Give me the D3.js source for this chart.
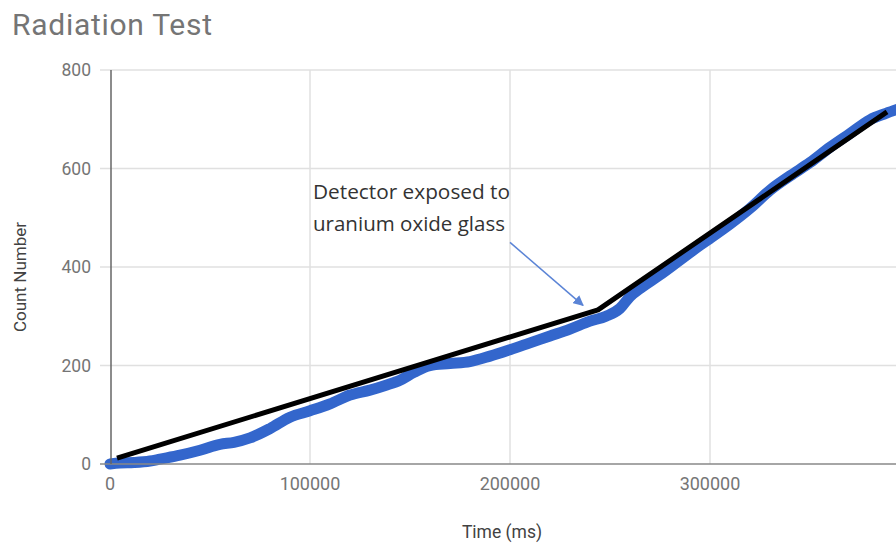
<!DOCTYPE html>
<html>
<head>
<meta charset="utf-8">
<script src="https://cdn.jsdelivr.net/npm/d3@7"></script>
<style>
  body { margin: 0; background: #fff; }
  svg { display: block; font-family: Roboto, sans-serif; }
</style>
</head>
<body>
<div id="chart"></div>
<script>
// measured counts (time in ms, cumulative count)
var timeMs = [0, 5000, 12000, 20000, 25000, 35000, 45000, 55000, 62000, 70000, 80000, 90000, 100000,
  110000, 120000, 130000, 138000, 145000, 152000, 160000, 170000, 180000, 190000, 200000, 210000,
  220000, 230000, 240000, 248000, 255000, 260000, 265000, 275000, 285000, 295000, 300000,
  310000, 320000, 330000, 340000, 350000, 360000, 370000, 380000, 388000, 395000];
var counts = [0, 2, 3, 6, 10, 18, 28, 40, 44, 53, 72, 95, 108,
  122, 140, 150, 160, 170, 186, 200, 204, 208, 219, 232, 246,
  260, 274, 290, 300, 316, 340, 356, 384, 414, 444, 458,
  487, 519, 556, 585, 612, 643, 671, 699, 712, 722];

// two fitted trend segments (before / after exposure)
var fitTime = [3500, 244000, 388500];
var fitCount = [12, 313, 715];

var yTicks = [0, 200, 400, 600, 800];
var xTicks = [0, 100000, 200000, 300000];

var annotationLines = ["Detector exposed to", "uranium oxide glass"];
var annotationWidths = [197, 192];
var annotationFrom = [200000, 450];   // where the arrow starts (data units)
var annotationTo = [236500, 322];     // arrow tip

var width = 896, height = 544;
var margin = {top: 70, left: 110, bottom: 80};

var svg = d3.select("#chart").append("svg")
  .attr("width", width)
  .attr("height", height);

var x = d3.scaleLinear().domain([0, 400000]).range([margin.left, 910]);
var y = d3.scaleLinear().domain([0, 800]).range([height - margin.bottom, margin.top]);

svg.append("text")
  .attr("x", 12).attr("y", 35)
  .attr("font-size", 30)
  .attr("fill", "#757575")
  .attr("textLength", 200)
  .text("Radiation Test");

// gridlines
svg.append("g").selectAll("line")
  .data(yTicks.slice(1))
  .enter().append("line")
  .attr("x1", margin.left - 10).attr("x2", width)
  .attr("y1", function(d) { return y(d); })
  .attr("y2", function(d) { return y(d); })
  .attr("stroke", "#e0e0e0").attr("stroke-width", 1.5);

svg.append("g").selectAll("line")
  .data(xTicks.slice(1))
  .enter().append("line")
  .attr("x1", function(d) { return x(d); })
  .attr("x2", function(d) { return x(d); })
  .attr("y1", y(800)).attr("y2", y(0))
  .attr("stroke", "#e0e0e0").attr("stroke-width", 1.5);

// y tick labels
svg.append("g").selectAll("text")
  .data(yTicks)
  .enter().append("text")
  .attr("x", 91)
  .attr("y", function(d) { return y(d) + 6; })
  .attr("text-anchor", "end")
  .attr("font-size", 17.5)
  .attr("fill", "#757575")
  .text(function(d) { return d; });

// x tick labels
svg.append("g").selectAll("text")
  .data(xTicks)
  .enter().append("text")
  .attr("x", function(d) { return x(d); })
  .attr("y", 490)
  .attr("text-anchor", "middle")
  .attr("font-size", 18)
  .attr("fill", "#757575")
  .text(function(d) { return d; });

// axis titles
svg.append("text")
  .attr("x", 502).attr("y", 538)
  .attr("text-anchor", "middle")
  .attr("font-size", 17.5)
  .attr("fill", "#424242")
  .text("Time (ms)");

svg.append("text")
  .attr("transform", "translate(26,277) rotate(-90)")
  .attr("text-anchor", "middle")
  .attr("font-size", 17)
  .attr("fill", "#424242")
  .text("Count Number");

// data line
var pts = timeMs.map(function(t, i) { return [t, counts[i]]; });
var line = d3.line()
  .x(function(d) { return x(d[0]); })
  .y(function(d) { return y(d[1]); })
  .curve(d3.curveMonotoneX);

svg.append("path")
  .datum(pts)
  .attr("d", line)
  .attr("fill", "none")
  .attr("stroke", "#3366cc")
  .attr("stroke-width", 11)
  .attr("stroke-linejoin", "round")
  .attr("stroke-linecap", "round");

// axes lines
svg.append("line")
  .attr("x1", margin.left - 10).attr("x2", width)
  .attr("y1", y(0)).attr("y2", y(0))
  .attr("stroke", "#888").attr("stroke-width", 1.5);
svg.append("line")
  .attr("x1", x(0) + 1).attr("x2", x(0) + 1)
  .attr("y1", y(800)).attr("y2", y(0))
  .attr("stroke", "#666").attr("stroke-width", 1.5);

// fit line
var fitPts = fitTime.map(function(t, i) { return [t, fitCount[i]]; });
svg.append("path")
  .datum(fitPts)
  .attr("d", d3.line().x(function(d) { return x(d[0]); }).y(function(d) { return y(d[1]); }))
  .attr("fill", "none")
  .attr("stroke", "#000")
  .attr("stroke-width", 5)
  .attr("stroke-linejoin", "round");

// annotation
var ann = svg.append("text")
  .attr("font-family", "'Open Sans', sans-serif")
  .attr("font-size", 20.5)
  .attr("fill", "#333");
ann.selectAll("tspan")
  .data(annotationLines)
  .enter().append("tspan")
  .attr("x", 313)
  .attr("y", function(d, i) { return 199 + i * 32; })
  .attr("textLength", function(d, i) { return annotationWidths[i]; })
  .attr("lengthAdjust", "spacingAndGlyphs")
  .text(function(d) { return d; });

svg.append("defs").append("marker")
  .attr("id", "arrow")
  .attr("viewBox", "0 0 10 10")
  .attr("refX", 9).attr("refY", 5)
  .attr("markerWidth", 7).attr("markerHeight", 7)
  .attr("orient", "auto")
  .append("path")
  .attr("d", "M0,0 L10,5 L0,10 z")
  .attr("fill", "#5b84d6");

svg.append("line")
  .attr("x1", x(annotationFrom[0])).attr("y1", y(annotationFrom[1]))
  .attr("x2", x(annotationTo[0])).attr("y2", y(annotationTo[1]))
  .attr("stroke", "#5b84d6").attr("stroke-width", 1.5)
  .attr("marker-end", "url(#arrow)");
</script>
</body>
</html>
